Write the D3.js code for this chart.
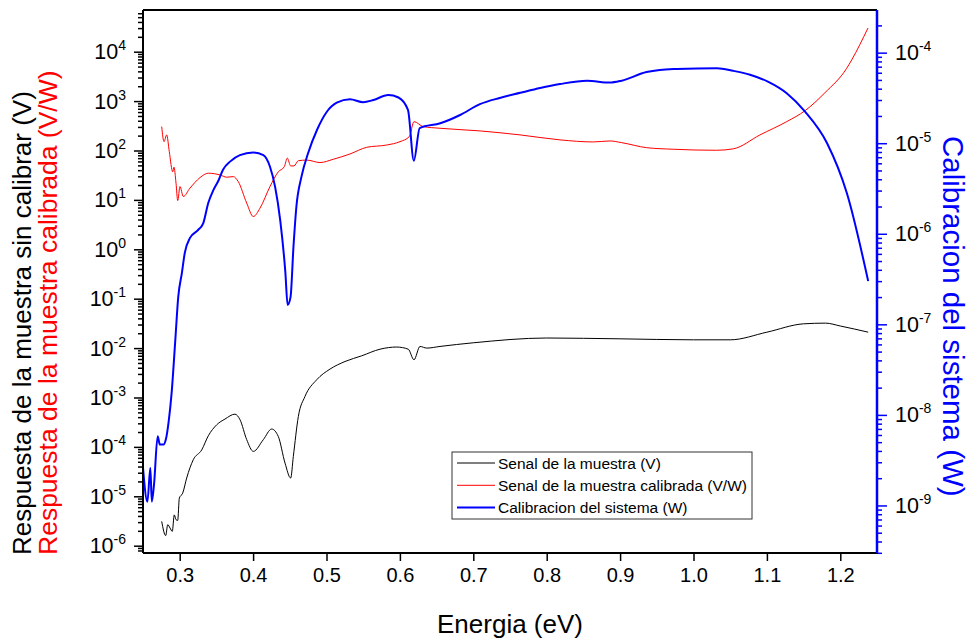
<!DOCTYPE html>
<html>
<head>
<meta charset="utf-8">
<script src="https://d3js.org/d3.v7.min.js"></script>
<style>
  body { margin: 0; background: #fff; }
  text { font-family: "Liberation Sans", Arial, sans-serif; }
</style>
</head>
<body>
<div id="chart"></div>
<script>
// energy (eV) and signal of the sample, left axis
var energySenal = [0.2755, 0.2809, 0.2837, 0.2868, 0.2899, 0.2926, 0.295, 0.2973, 0.2995, 0.3041, 0.3095, 0.3185,
    0.33, 0.339, 0.3504, 0.3617, 0.3753, 0.3822, 0.3913, 0.4003, 0.4139, 0.4253, 0.4343, 0.4435, 0.4512, 0.4548,
    0.4616, 0.4707, 0.4866, 0.5048, 0.5252, 0.548, 0.5729, 0.5956, 0.6114, 0.6192, 0.6274, 0.6365, 0.6546, 0.70,
    0.80, 0.90, 1.00, 1.05, 1.10, 1.15, 1.18, 1.20, 1.238];
var senal = [3.1e-6, 1.6e-6, 2.66e-6, 2.28e-6, 1.95e-6, 4.2e-6, 3.36e-6, 3.25e-6, 9.2e-6, 1.16e-5, 2.34e-5, 5.5e-5,
    8.7e-5, 1.68e-4, 2.8e-4, 3.66e-4, 4.6e-4, 3.54e-4, 1.4e-4, 8.1e-5, 1.4e-4, 2.3e-4, 1.63e-4, 4.7e-5, 2.34e-5, 6.4e-5,
    4.1e-4, 1.05e-3, 2.28e-3, 3.76e-3, 5.35e-3, 6.98e-3, 9.5e-3, 1.05e-2, 9.5e-3, 5.8e-3, 1.08e-2, 1.0e-2, 1.08e-2, 1.28e-2,
    1.6e-2, 1.54e-2, 1.47e-2, 1.47e-2, 2.1e-2, 3.1e-2, 3.2e-2, 2.8e-2, 2.1e-2];

// calibrated signal (V/W), left axis
var energyCalibrada = [0.2755, 0.2786, 0.2823, 0.2858, 0.2905, 0.2922, 0.295, 0.2973, 0.3004, 0.3049, 0.314, 0.3277,
    0.339, 0.3549, 0.364, 0.373, 0.3798, 0.3913, 0.4003, 0.4094, 0.423, 0.4343, 0.4425, 0.4466, 0.4512, 0.4557, 0.4616,
    0.473, 0.4911, 0.5093, 0.532, 0.5548, 0.582, 0.6001, 0.6128, 0.6192, 0.6319, 0.6546, 0.7091, 0.7636, 0.8181, 0.8635,
    0.8862, 0.9022, 0.9362, 0.9725, 1.0316, 1.0542, 1.0906, 1.127, 1.152, 1.1791, 1.2087, 1.2155, 1.2377];
var calibrada = [304, 151, 207, 95, 37, 46, 21.8, 9.7, 18.6, 11.7, 17.3, 28.3,
    34.7, 32, 28.8, 29.6, 23.4, 8.6, 4.6, 6.8, 18.6, 37, 47, 70, 48.7, 48.7, 62,
    64, 57, 66.5, 85, 116, 129, 151, 191, 384, 304, 282, 249, 207, 164, 149,
    156, 144, 114, 106, 101, 108, 207, 384, 640, 1480, 4610, 6800, 30100];

// system calibration (W), right axis
var energyCal = [0.250, 0.256, 0.260, 0.262, 0.265, 0.270, 0.273, 0.278, 0.281, 0.285, 0.289, 0.294, 0.298, 0.303,
    0.307, 0.314, 0.325, 0.332, 0.339, 0.346, 0.353, 0.359, 0.369, 0.382, 0.400, 0.414, 0.423, 0.430, 0.437, 0.444,
    0.447, 0.451, 0.455, 0.459, 0.466, 0.475, 0.487, 0.500, 0.514, 0.532, 0.550, 0.564, 0.584, 0.598, 0.611, 0.619,
    0.627, 0.655, 0.682, 0.709, 0.736, 0.764, 0.791, 0.818, 0.855, 0.886, 0.902, 0.936, 0.954, 0.977, 1.032, 1.054,
    1.077, 1.102, 1.127, 1.152, 1.182, 1.209, 1.238];
var calibracion = [2.6e-9, 1.1e-9, 2.6e-9, 1.1e-9, 1.7e-9, 5.8e-9, 4.7e-9, 4.7e-9, 5.3e-9, 8.5e-9, 1.75e-8, 6.7e-8, 2.0e-7, 3.7e-7,
    6.2e-7, 9.0e-7, 1.1e-6, 1.3e-6, 2.2e-6, 3.05e-6, 3.9e-6, 5.1e-6, 6.3e-6, 7.4e-6, 7.9e-6, 7.4e-6, 5.5e-6, 3.3e-6, 1.4e-6, 3.7e-7,
    1.64e-7, 2.0e-7, 7.2e-7, 2.0e-6, 4.3e-6, 7.8e-6, 1.4e-5, 2.2e-5, 2.8e-5, 3.06e-5, 2.84e-5, 3.0e-5, 3.4e-5, 3.2e-5, 2.33e-5, 6.4e-6,
    1.47e-5, 1.66e-5, 2.05e-5, 2.7e-5, 3.16e-5, 3.6e-5, 4.07e-5, 4.5e-5, 4.9e-5, 4.67e-5, 4.9e-5, 6.1e-5, 6.44e-5, 6.6e-5, 6.73e-5, 6.3e-5,
    5.7e-5, 4.75e-5, 3.56e-5, 2.23e-5, 1.0e-5, 2.8e-6, 3.0e-7];

var xTicks = [0.3, 0.4, 0.5, 0.6, 0.7, 0.8, 0.9, 1.0, 1.1, 1.2];
var leftExp = [4, 3, 2, 1, 0, -1, -2, -3, -4, -5, -6];
var rightExp = [-4, -5, -6, -7, -8, -9];
var legendLabels = ["Senal de la muestra (V)", "Senal de la muestra calibrada (V/W)", "Calibracion del sistema (W)"];
var legendColors = ["#000", "#ff0000", "#0000ff"];

// dimensions
var W = 971, H = 640;
var margin = { top: 10, right: 94, bottom: 87, left: 143 },
    width = W - margin.left - margin.right,
    height = H - margin.top - margin.bottom;

var svg = d3.select("#chart").append("svg")
    .attr("width", W)
    .attr("height", H);

var g = svg.append("g")
    .attr("transform", "translate(" + margin.left + "," + margin.top + ")");

// scales
var x = d3.scaleLinear().domain([0.25, 1.25]).range([0, width]);
var yL = d3.scaleLog().domain([Math.pow(10, -6.148), Math.pow(10, 4.844)]).range([height, 0]);
var yR = d3.scaleLog().domain([Math.pow(10, -9.525), Math.pow(10, -3.529)]).range([height, 0]);

// minor tick helper for log axes
function minors(scale, exps) {
    var lo = d3.min(exps) - 1, hi = d3.max(exps) + 1, out = [];
    var dom = scale.domain();
    for (var e = lo; e <= hi; e++) {
        for (var k = 2; k <= 9; k++) {
            var v = k * Math.pow(10, e);
            if (v >= dom[0] && v <= dom[1]) out.push(v);
        }
    }
    return out;
}

// lines
g.append("clipPath").attr("id", "clip")
    .append("rect").attr("width", width).attr("height", height);

function draw(ex, ey, scale, color, sw) {
    var pts = ex.map(function (e, i) { return [e, ey[i]]; });
    g.append("path")
        .datum(pts)
        .attr("clip-path", "url(#clip)")
        .attr("fill", "none")
        .attr("stroke", color)
        .attr("stroke-width", sw)
        .attr("stroke-linejoin", "round")
        .attr("d", d3.line()
            .curve(d3.curveMonotoneX)
            .x(function (d) { return x(d[0]); })
            .y(function (d) { return scale(d[1]); }));
}
draw(energySenal, senal, yL, "#000", 1);
draw(energyCalibrada, calibrada, yL, "#ff0000", 1);
draw(energyCal, calibracion, yR, "#0000ff", 2);

// x axis
var xAxis = g.append("g").attr("transform", "translate(0," + height + ")");
xAxis.call(d3.axisBottom(x).tickValues(d3.range(0.25, 1.2501, 0.1)).tickSize(4).tickFormat(""));
xAxis.call(d3.axisBottom(x).tickValues(xTicks).tickSize(8).tickFormat(d3.format(".1f")));
xAxis.selectAll("path").remove();
xAxis.selectAll("line").attr("stroke", "#000").attr("stroke-width", 1.5);
xAxis.selectAll("text").attr("font-size", 20).attr("fill", "#000").attr("y", 15).attr("dy", "0.71em")
    .style("font-family", "'Liberation Sans', Arial, sans-serif");

// left axis
var lAxis = g.append("g");
lAxis.call(d3.axisLeft(yL).tickValues(minors(yL, leftExp)).tickSize(5).tickFormat(""));
var lMajor = g.append("g");
lMajor.call(d3.axisLeft(yL).tickValues(leftExp.map(function (e) { return Math.pow(10, e); })).tickSize(9).tickFormat(""));
lAxis.selectAll("path").remove();
lMajor.selectAll("path").remove();
g.selectAll("line").attr("stroke-width", 1.5);
lMajor.selectAll(".tick").each(function (d, i) {
    var t = d3.select(this).append("text")
        .attr("x", -17).attr("y", 7)
        .attr("text-anchor", "end")
        .attr("fill", "#000")
        .attr("font-size", 21.5)
        .style("font-family", "'Liberation Sans', Arial, sans-serif");
    t.append("tspan").text("10");
    t.append("tspan").attr("dy", -9).attr("font-size", 14).text(leftExp[i]);
});

// right axis
var rAxis = g.append("g").attr("transform", "translate(" + width + ",0)");
rAxis.call(d3.axisRight(yR).tickValues(minors(yR, rightExp)).tickSize(5).tickFormat(""));
var rMajor = g.append("g").attr("transform", "translate(" + width + ",0)");
rMajor.call(d3.axisRight(yR).tickValues(rightExp.map(function (e) { return Math.pow(10, e); })).tickSize(10).tickFormat(""));
rAxis.selectAll("path").remove();
rMajor.selectAll("path").remove();
rAxis.selectAll("line").attr("stroke", "#0000ff").attr("stroke-width", 1.5);
rMajor.selectAll("line").attr("stroke", "#0000ff").attr("stroke-width", 1.5);
rMajor.selectAll(".tick").each(function (d, i) {
    var t = d3.select(this).append("text")
        .attr("x", 18).attr("y", 7)
        .attr("text-anchor", "start")
        .attr("fill", "#000")
        .attr("font-size", 21.5)
        .style("font-family", "'Liberation Sans', Arial, sans-serif");
    t.append("tspan").text("10");
    t.append("tspan").attr("dy", -9).attr("font-size", 14).text(rightExp[i]);
});

// frame: black left/bottom/top, blue right
g.append("line").attr("x1", 0).attr("x2", width).attr("y1", 0).attr("y2", 0)
    .attr("stroke", "#000").attr("stroke-width", 2);
g.append("line").attr("x1", 0).attr("x2", width).attr("y1", height).attr("y2", height)
    .attr("stroke", "#000").attr("stroke-width", 2);
g.append("line").attr("x1", 0).attr("x2", 0).attr("y1", 0).attr("y2", height)
    .attr("stroke", "#000").attr("stroke-width", 2);
g.append("line").attr("x1", width).attr("x2", width).attr("y1", 0).attr("y2", height)
    .attr("stroke", "#0000ff").attr("stroke-width", 2.5);

// axis titles
svg.append("text")
    .attr("x", margin.left + width / 2).attr("y", 633)
    .attr("text-anchor", "middle").attr("font-size", 26).attr("fill", "#000")
    .text("Energia (eV)");

svg.append("text")
    .attr("transform", "translate(31,555) rotate(-90)")
    .attr("text-anchor", "start").attr("font-size", 26).attr("fill", "#000")
    .text("Respuesta de la muestra sin calibrar (V)");

svg.append("text")
    .attr("transform", "translate(57,555) rotate(-90)")
    .attr("text-anchor", "start").attr("font-size", 26.5).attr("fill", "#ff0000")
    .text("Respuesta de la muestra calibrada (V/W)");

svg.append("text")
    .attr("transform", "translate(943,136) rotate(90)")
    .attr("text-anchor", "start").attr("font-size", 29.5).attr("fill", "#0000ff")
    .text("Calibracion del sistema (W)");

// legend
var legend = svg.append("g").attr("transform", "translate(452,452)");
legend.append("rect")
    .attr("width", 300).attr("height", 67)
    .attr("fill", "#fff").attr("stroke", "#333").attr("stroke-width", 1);
legendLabels.forEach(function (lab, i) {
    var yy = 11 + i * 22.3;
    legend.append("line")
        .attr("x1", 5).attr("x2", 43).attr("y1", yy).attr("y2", yy)
        .attr("stroke", legendColors[i]).attr("stroke-width", i == 2 ? 2 : 1);
    legend.append("text")
        .attr("x", 46).attr("y", yy + 5.5)
        .attr("font-size", 15.5).attr("fill", "#000")
        .text(lab);
});
</script>
</body>
</html>
